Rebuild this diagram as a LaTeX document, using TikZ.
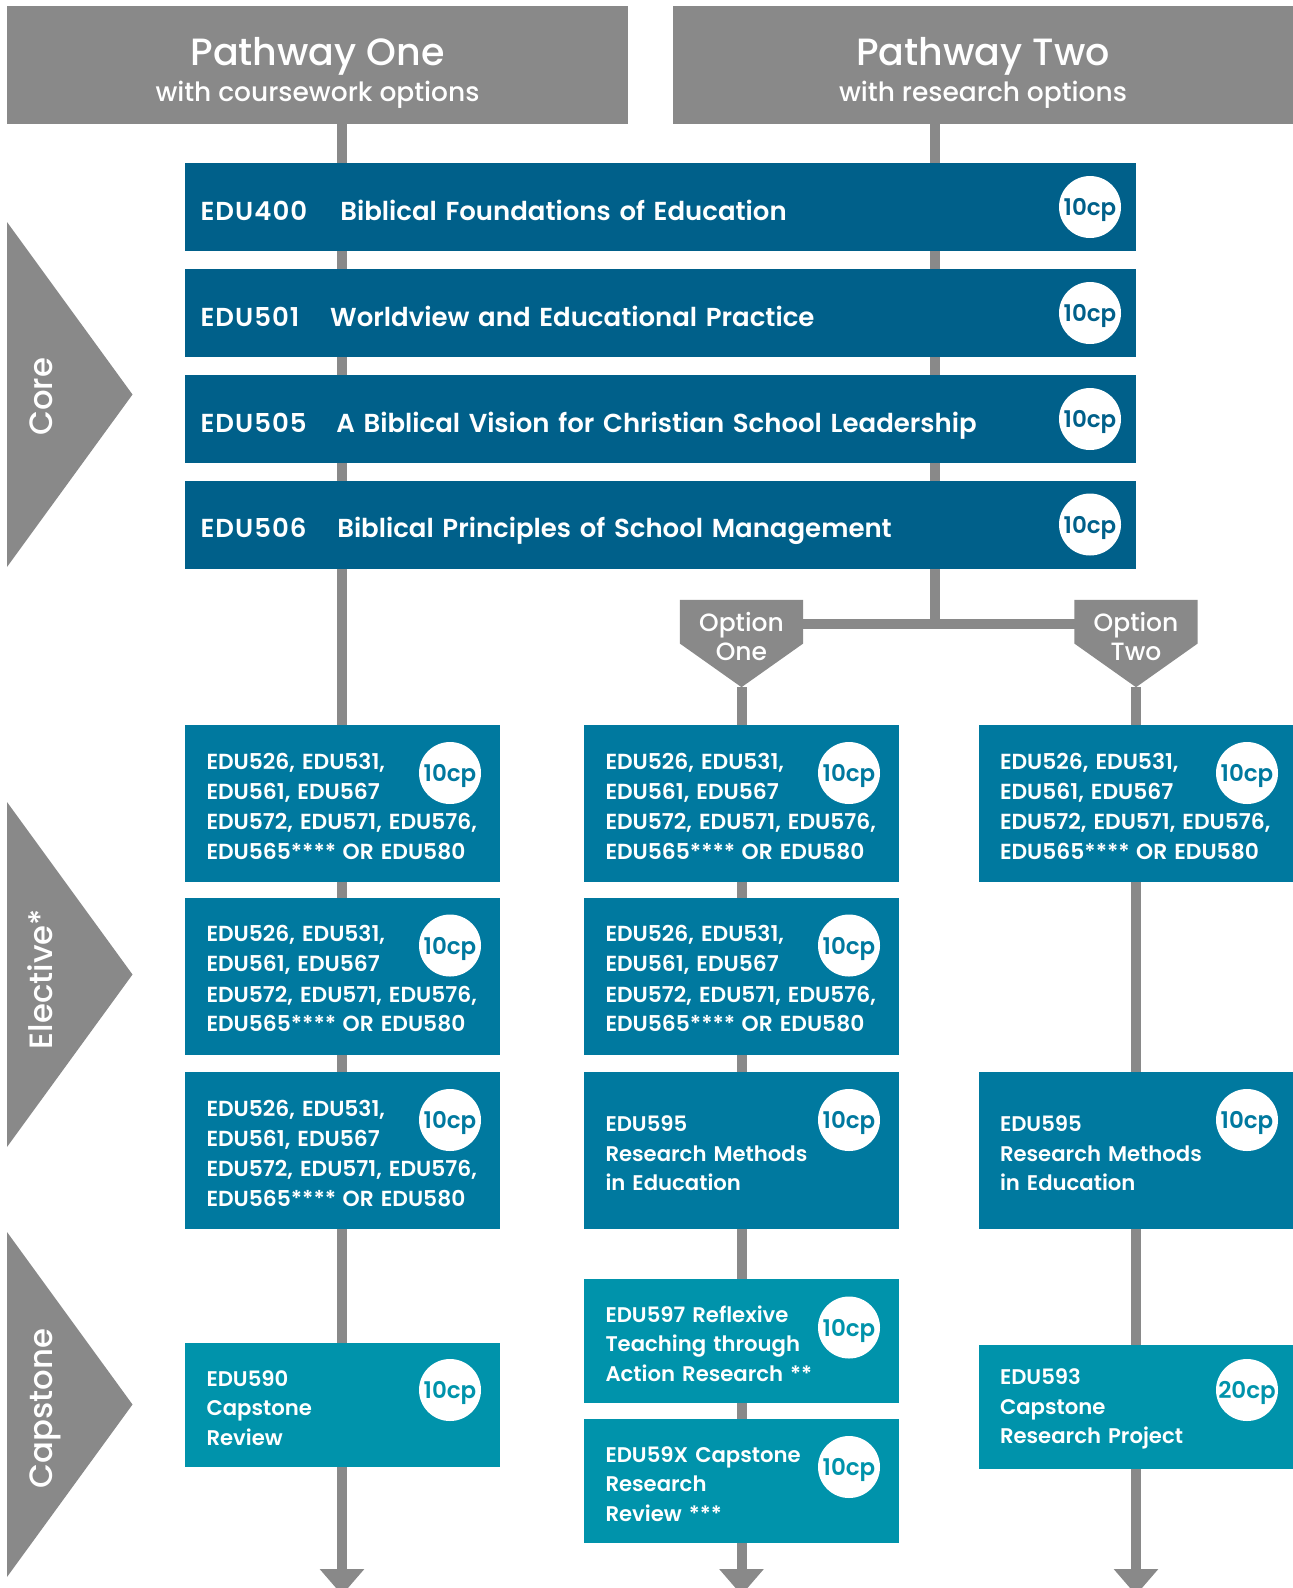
\documentclass[tikz,border=0pt]{standalone}
\usepackage{fontspec}
\setmainfont{Poppins}
\newfontfamily\medfont{Poppins Medium}
\newfontfamily\semifont{Poppins SemiBold}
\usetikzlibrary{arrows.meta,backgrounds}

\newlength{\du}
\setlength{\du}{1pt}

\definecolor{greycolor}{rgb}{0.537255, 0.537255, 0.537255}
\definecolor{corecolor}{rgb}{0.000000, 0.376471, 0.541176}
\definecolor{electivecolor}{rgb}{0.000000, 0.474510, 0.623529}
\definecolor{capstonecolor}{rgb}{0.000000, 0.576471, 0.670588}

\newcommand{\electivelist}{\fontsize{21.8}{30.3}\selectfont EDU526, EDU531,\\EDU561, EDU567\\EDU572, EDU571, EDU576,\\EDU565****\hspace{0.3em}OR EDU580}
\newcommand{\unitcode}[2]{\makebox[#1\du][l]{\addfontfeature{LetterSpace=4}#2}}

\begin{document}
\begin{tikzpicture}[x=\du,y=-\du,
  header/.style={rectangle,fill=greycolor,inner sep=0pt,minimum height=117.5\du},
  titletext/.style={anchor=base,text=white,inner sep=0pt,font=\medfont\fontsize{38}{40}\selectfont},
  subtext/.style={anchor=base,text=white,inner sep=0pt,font=\medfont\fontsize{26.5}{30}\selectfont},
  sidetext/.style={anchor=base,rotate=90,text=white,inner sep=0pt,font=\medfont\fontsize{32.3}{36}\selectfont},
  corebox/.style={rectangle,fill=corecolor,text=white,minimum height=88\du,inner xsep=15.6\du,inner ysep=0pt,
    text width=919.8\du,text height=26.5\du,text depth=0pt,align=left,font=\semifont\fontsize{26}{30}\selectfont},
  unitbox/.style={rectangle,fill=#1,text=white,inner xsep=21.5\du,inner ysep=0pt,text width=272\du,
    align=left,font=\semifont\fontsize{21.2}{29.5}\selectfont,
    execute at begin node={\rule{0pt}{21.5\du}}},
  elecbox/.style={unitbox=electivecolor,minimum height=157\du},
  capbox/.style={unitbox=capstonecolor,minimum height=124\du},
  cp/.style={circle,fill=white,text=#1,minimum size=62\du,inner sep=0pt,text depth=0pt,
    font=\semifont\fontsize{23}{24}\selectfont},
  option/.style={rectangle,text=white,minimum width=123\du,minimum height=87\du,inner sep=0pt,
    align=center,text depth=14\du,font=\medfont\fontsize{25}{29.5}\selectfont},
  trunk/.style={draw=greycolor,line width=10pt},
  downarrow/.style={trunk,-{Triangle[width=43pt,length=26pt]}}]
\useasboundingbox (0,0) rectangle (1293,1588);

% headers
\node[header,minimum width=621\du] (hdrA) at (317.5,64.75) {};
\node[header,minimum width=620\du] (hdrB) at (983,64.75) {};
\node[titletext] (hdrAtitle) at (317.5,65.7) {Pathway One};
\node[subtext] (hdrAsub) at (317.5,101.7) {with coursework options};
\node[titletext] (hdrBtitle) at (983,65.7) {Pathway Two};
\node[subtext] (hdrBsub) at (983,101.7) {with research options};

% side markers
\fill[greycolor] (7,222) -- (132.5,394.5) -- (7,567) -- cycle;
\fill[greycolor] (7,802) -- (132.5,974.5) -- (7,1147) -- cycle;
\fill[greycolor] (7,1232) -- (132.5,1404.5) -- (7,1577) -- cycle;
\node[sidetext] (sideCore) at (52,397) {Core};
\node[sidetext] (sideElective) at (52,979) {Elective*};
\node[sidetext] (sideCapstone) at (52,1408.5) {Capstone};

% core units
\node[corebox] (core1) at (660.5,207) {\unitcode{139.8}{EDU400}Biblical Foundations of Education};
\node[corebox] (core2) at (660.5,313) {\unitcode{129.6}{EDU501}Worldview and Educational Practice};
\node[corebox] (core3) at (660.5,419) {\unitcode{135.7}{EDU505}A Biblical Vision for Christian School Leadership};
\node[corebox] (core4) at (660.5,524.5) {\unitcode{136.7}{EDU506}Biblical Principles of School Management};
\node[cp=corecolor] (cpcore1) at (1090,207) {10cp};
\node[cp=corecolor] (cpcore2) at (1090,313) {10cp};
\node[cp=corecolor] (cpcore3) at (1090,419) {10cp};
\node[cp=corecolor] (cpcore4) at (1090,524.5) {10cp};

% options
\node[option] (optA) at (741.5,643.5) {Option\\One};
\node[option] (optB) at (1136,643.5) {Option\\Two};

% pathway one
\node[elecbox] (oneA) at (342.5,803.5) {\electivelist};
\node[elecbox] (oneB) at (342.5,976) {\electivelist};
\node[elecbox] (oneC) at (342.5,1150.5) {\electivelist};
\node[capbox] (oneCap) at (342.5,1405) {EDU590\\Capstone\\Review};
\node[cp=electivecolor] (cponeA) at (450,773) {10cp};
\node[cp=electivecolor] (cponeB) at (450,945.5) {10cp};
\node[cp=electivecolor] (cponeC) at (450,1120) {10cp};
\node[cp=capstonecolor] (cponeCap) at (450,1390) {10cp};

% option one
\node[elecbox] (twoA) at (741.5,803.5) {\electivelist};
\node[elecbox] (twoB) at (741.5,976) {\electivelist};
\node[elecbox] (twoC) at (741.5,1150.5) {EDU595\\Research Methods\\in Education};
\node[capbox] (twoCapA) at (741.5,1341.25) {EDU597 Reflexive\\Teaching through\\Action Research **};
\node[capbox] (twoCapB) at (741.5,1481) {EDU59X Capstone\\Research\\Review ***};
\node[cp=electivecolor] (cptwoA) at (849,773) {10cp};
\node[cp=electivecolor] (cptwoB) at (849,945.5) {10cp};
\node[cp=electivecolor] (cptwoC) at (849,1120) {10cp};
\node[cp=capstonecolor] (cptwoCapA) at (849,1327.5) {10cp};
\node[cp=capstonecolor] (cptwoCapB) at (849,1467) {10cp};

% option two
\node[elecbox] (threeA) at (1136,803.5) {\electivelist};
\node[elecbox] (threeC) at (1136,1150.5) {EDU595\\Research Methods\\in Education};
\node[capbox] (threeCap) at (1136,1406.5) {EDU593\\Capstone\\Research Project};
\node[cp=electivecolor] (cpthreeA) at (1247,773) {10cp};
\node[cp=electivecolor] (cpthreeC) at (1247,1120) {10cp};
\node[cp=capstonecolor] (cpthreeCap) at (1247,1390) {20cp};

% trunk lines
\coordinate (jn) at (935,624);
\coordinate (endA) at (342,1595);
\coordinate (endB) at (741.5,1595);
\coordinate (endC) at (1136,1595);
\begin{scope}[on background layer]
\draw[downarrow] (hdrA.south -| endA) -- (endA);
\draw[trunk] (hdrB.south -| jn) -- (jn);
\draw[trunk] (optA.center |- jn) -- (optB.center |- jn);
\draw[downarrow] (optA.south) -- (endB);
\draw[downarrow] (optB.south) -- (endC);
\fill[greycolor] (optA.north west) -- (optA.north east) -- (optA.east) -- (optA.south) -- (optA.west) -- cycle;
\fill[greycolor] (optB.north west) -- (optB.north east) -- (optB.east) -- (optB.south) -- (optB.west) -- cycle;
\end{scope}
\end{tikzpicture}
\end{document}
